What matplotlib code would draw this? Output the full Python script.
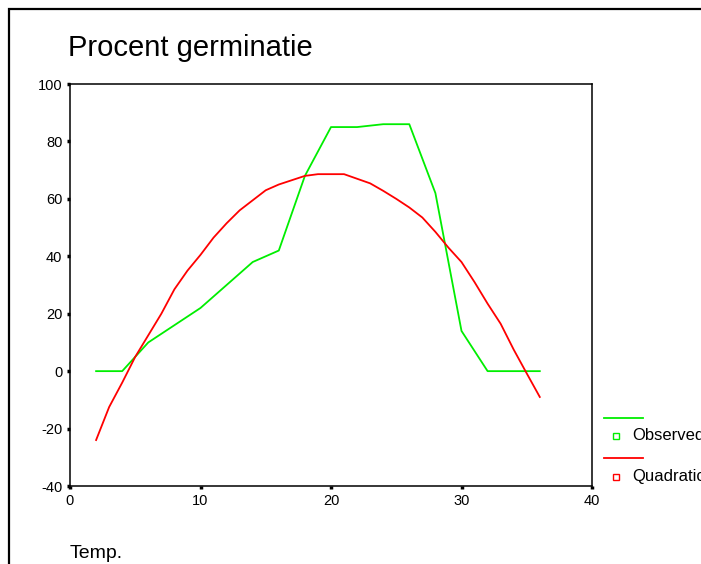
import matplotlib
matplotlib.use('Agg')
import matplotlib.pyplot as plt
from matplotlib.lines import Line2D
from matplotlib.patches import Rectangle

#==================================================================================================
# Data
#==================================================================================================
temp_observed = [2, 4, 6, 8, 10, 12, 14, 16, 18, 20, 22, 24, 26, 28, 30, 32, 34, 36]
germ_observed = [0, 0, 10, 16, 22, 30, 38, 42, 68, 85, 85, 86, 86, 62, 14, 0, 0, 0]

temp_quadratic = list(range(2, 37))
germ_quadratic = [-24, -12.5, -4, 5, 12.5, 20, 28.5, 35, 40.5, 46.5, 51.5, 56, 59.5, 63, 65,
                  66.5, 68, 68.6, 68.6, 68.6, 67, 65.4, 62.8, 60, 57, 53.5, 48.5, 43, 38, 31,
                  23.5, 16.5, 7.5, -0.8, -9]

x_ticks = [0, 10, 20, 30, 40]
y_ticks = [-40, -20, 0, 20, 40, 60, 80, 100]

green = '#00ee00'
red = '#ff0000'

#==================================================================================================
# Figure layout
#==================================================================================================
plt.rcParams['font.family'] = ['Liberation Sans', 'DejaVu Sans']
plt.rcParams['axes.unicode_minus'] = False
W, H = 701, 564
fig = plt.figure(figsize=(W / 100, H / 100), dpi=100)

# outer frame (cut off at right and bottom)
fig.add_artist(Rectangle((9 / W, -0.1), 1.2, 1 - 9.5 / H + 0.1, transform=fig.transFigure,
                         fill=False, edgecolor='black', linewidth=1.6))

ax = fig.add_axes([70 / W, (H - 486) / H, 522 / W, 402 / H])
ax.plot(temp_observed, germ_observed, color=green, linewidth=1.3)
ax.plot(temp_quadratic, germ_quadratic, color=red, linewidth=1.3)

ax.set_xlim(0, 40)
ax.set_ylim(-40, 100)
ax.set_xticks(x_ticks)
ax.set_yticks(y_ticks)
ax.tick_params(direction='out', length=2.5, width=2.5, labelsize=10.5, pad=3)
for spine in ax.spines.values():
    spine.set_linewidth(1.1)

fig.text(68 / W, 1 - 48 / H, 'Procent germinatie', fontsize=21, va='center', ha='left')
fig.text(70 / W, 1 - 554 / H, 'Temp.', fontsize=14, va='center', ha='left')

#==================================================================================================
# Legend, drawn by hand (SPSS style: line row, then marker + label row)
#==================================================================================================
for color, label, y_line, y_mark in [(green, 'Observed', 418, 436), (red, 'Quadratic', 458, 477)]:
    fig.add_artist(Line2D([604 / W, 643 / W], [1 - y_line / H] * 2, transform=fig.transFigure,
                          color=color, linewidth=1.3))
    fig.add_artist(Line2D([616 / W], [1 - y_mark / H], transform=fig.transFigure, marker='s',
                          markersize=4.5, markerfacecolor='white', markeredgecolor=color,
                          markeredgewidth=1.0, linestyle='none'))
    fig.text(632 / W, 1 - y_mark / H, label, fontsize=12, va='center', ha='left')

fig.savefig('out.png', dpi=100)
